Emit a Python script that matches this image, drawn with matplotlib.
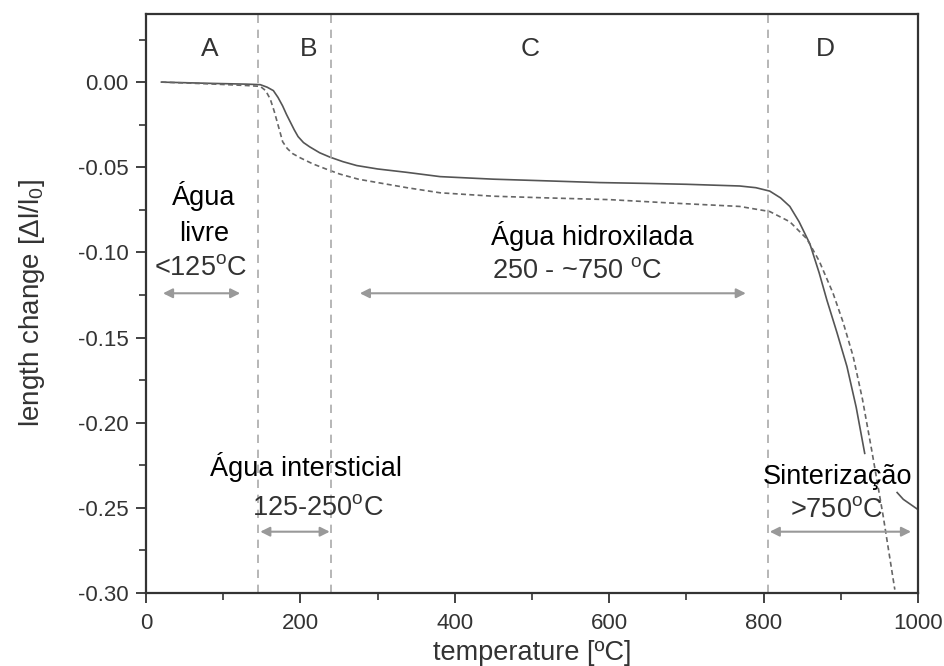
import numpy as np
import matplotlib
matplotlib.use("Agg")
import matplotlib.pyplot as plt

plt.rcParams['font.family'] = ['Liberation Sans', 'DejaVu Sans']
plt.rcParams['mathtext.fontset'] = 'custom'
plt.rcParams['mathtext.rm'] = 'Liberation Sans'
plt.rcParams['mathtext.it'] = 'Liberation Sans'

# curves (temperature in C, length change)
t_solid = [20, 80, 130, 148, 157, 165, 171, 177, 182, 187, 192, 197, 204, 212, 225, 238, 255,
           273, 300, 338, 381, 450, 520, 588, 650, 700, 769, 790, 808, 822, 834, 846, 860, 872,
           882, 895, 908, 920, 931]
dl_solid = [0.000, -0.0007, -0.0012, -0.0015, -0.003, -0.005, -0.009, -0.014, -0.019, -0.0235,
            -0.028, -0.032, -0.0355, -0.038, -0.0415, -0.044, -0.0467, -0.049, -0.051, -0.053,
            -0.0555, -0.057, -0.058, -0.059, -0.0595, -0.060, -0.061, -0.062, -0.064, -0.068,
            -0.073, -0.082, -0.095, -0.112, -0.128, -0.147, -0.167, -0.191, -0.218]

t_tail = [973, 981, 1000]
dl_tail = [-0.241, -0.245, -0.251]

t_dash = [20, 80, 130, 148, 155, 161, 166, 170, 174, 177, 183, 190, 200, 216, 233, 251, 275,
          300, 338, 381, 450, 520, 600, 680, 769, 808, 834, 856, 872, 890, 903, 916, 928, 940,
          955, 970]
dl_dash = [0.000, -0.001, -0.002, -0.0025, -0.005, -0.010, -0.017, -0.0235, -0.030, -0.035,
           -0.039, -0.042, -0.0445, -0.048, -0.051, -0.054, -0.057, -0.059, -0.062, -0.065,
           -0.067, -0.068, -0.069, -0.071, -0.073, -0.076, -0.082, -0.092, -0.105, -0.124,
           -0.141, -0.161, -0.186, -0.216, -0.255, -0.298]

region_bounds = [145, 240, 806]
region_names = ['A', 'B', 'C', 'D']
region_x = [82, 211, 497, 880]

fig = plt.figure(figsize=(9.45, 6.66), dpi=100)
ax = fig.add_axes([0.1545, 0.1096, 0.8169, 0.8694])

ax.plot(t_solid, dl_solid, color='#555555', lw=1.2)
ax.plot(t_tail, dl_tail, color='#555555', lw=1.2)
ax.plot(t_dash, dl_dash, color='#666666', lw=1.2, dashes=(3, 2))

for xb in region_bounds:
    ax.axvline(xb, color='#aaaaaa', lw=1.2, dashes=(5, 4))

for name, xr in zip(region_names, region_x):
    ax.text(xr, 0.0194, name, ha='center', va='center', fontsize=19, color='#333333')

deg = r'$^{\mathrm{o}}$'
txt = dict(ha='center', va='center', fontsize=19.5, color='black')
grey = dict(ha='center', va='center', fontsize=19.5, color='#333333')
ax.text(75, -0.067, 'Água', **txt)
ax.text(75, -0.089, 'livre', **txt)
ax.text(71, -0.109, '<125' + deg + 'C', **grey)
ax.text(578, -0.0906, 'Água hidroxilada', **txt)
ax.text(558, -0.111, '250 - ~750 ' + deg + 'C', **grey)
ax.text(207, -0.226, 'Água intersticial', **txt)
ax.text(223, -0.250, '125-250' + deg + 'C', **grey)
ax.text(896, -0.232, 'Sinterização', **txt)
ax.text(894, -0.251, '>750' + deg + 'C', **grey)

arrows = [(22, 122, -0.124), (277, 777, -0.124), (148, 238, -0.264), (808, 991, -0.264)]
for x0, x1, ya in arrows:
    ax.annotate('', xy=(x1, ya), xytext=(x0, ya),
                arrowprops=dict(arrowstyle='<|-|>', color='#999999', lw=1.5,
                                mutation_scale=14, shrinkA=0, shrinkB=0))

ax.set_xlim(0, 1000)
ax.set_ylim(-0.30, 0.040)
ax.set_xticks(np.arange(0, 1001, 200))
ax.set_xticks(np.arange(100, 1000, 200), minor=True)
yt = [-0.30, -0.25, -0.20, -0.15, -0.10, -0.05, 0.00]
ax.set_yticks(yt)
ax.set_yticks(np.arange(-0.275, 0.03, 0.05), minor=True)
ax.set_yticklabels(['%.2f' % v if v < 0 else '0.00' for v in yt])

ax.tick_params(which='major', direction='out', length=7.5, width=1.3, labelsize=16,
               colors='#333333', labelcolor='#333333')
ax.tick_params(axis='x', which='major', pad=7)
ax.tick_params(axis='y', which='major', pad=5)
ax.tick_params(which='minor', direction='out', length=5, width=1.2, colors='#333333')
for s in ax.spines.values():
    s.set_color('#333333')
    s.set_linewidth(1.6)

ax.set_xlabel('temperature [ºC]', fontsize=19.5, color='#333333', labelpad=4)
ax.set_ylabel(r'length change [$\Delta$l/l$_0$]', fontsize=20, color='#333333', labelpad=22)

fig.savefig('out.png', dpi=100)
